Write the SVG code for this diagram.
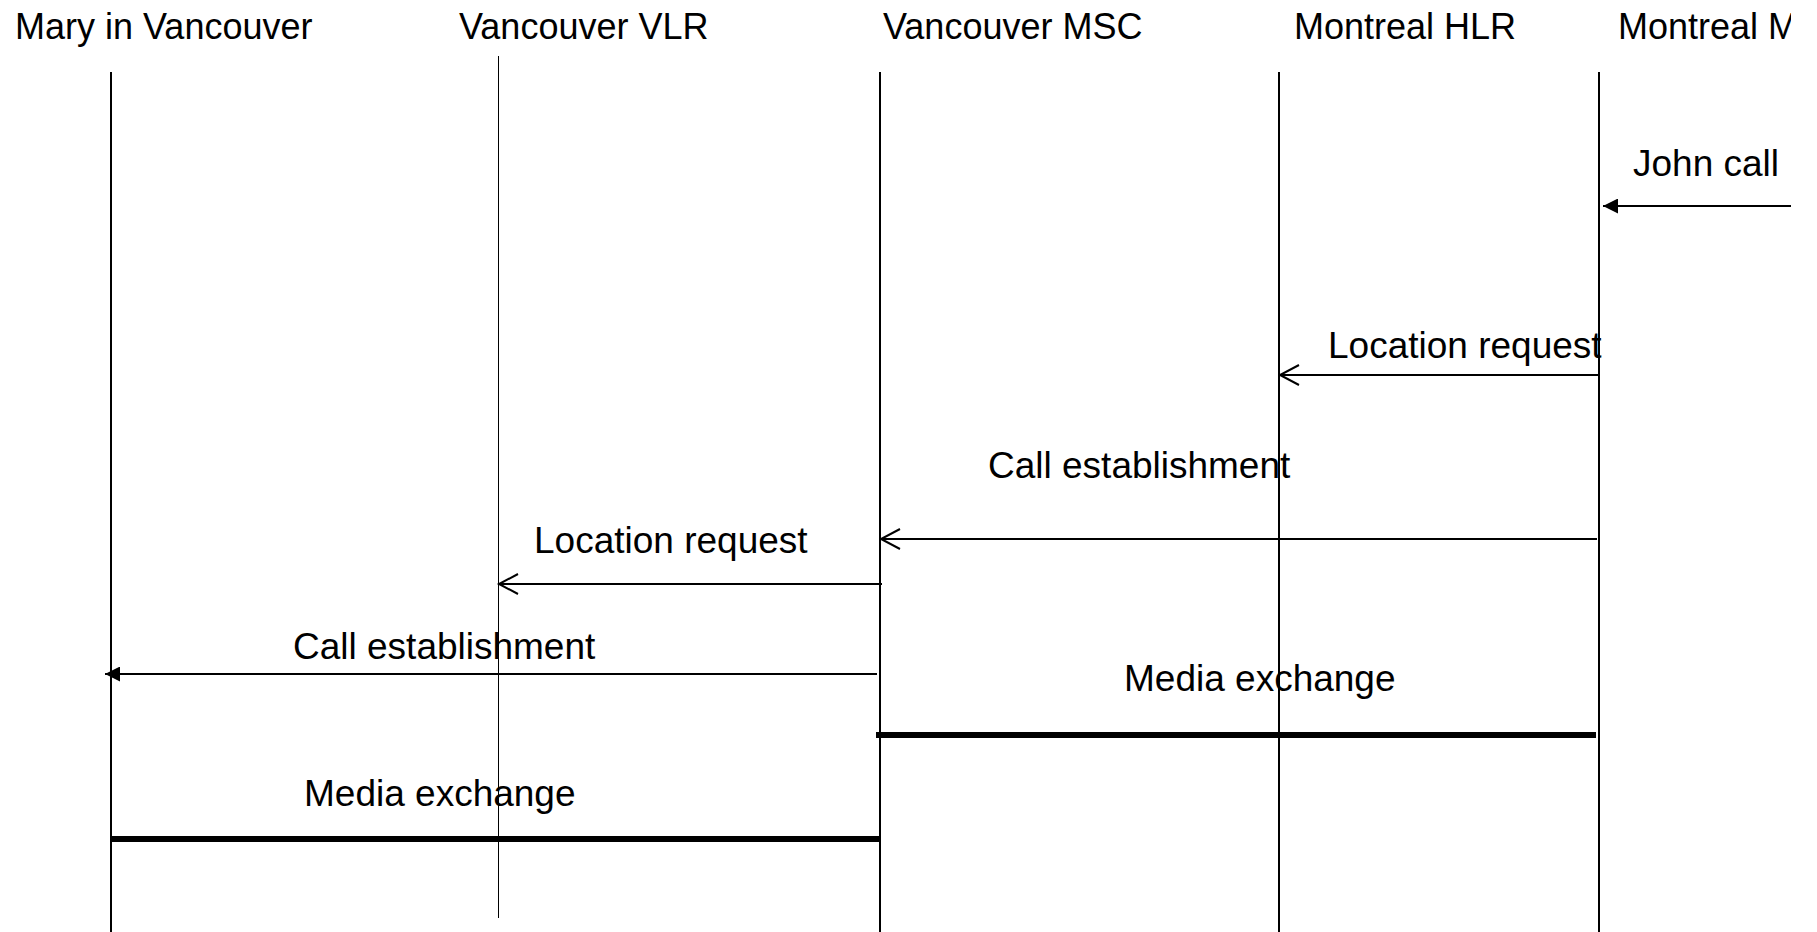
<svg xmlns="http://www.w3.org/2000/svg" width="1817" height="932" viewBox="0 0 1817 932">
<style>
.hdr{font-family:"Liberation Sans",Arial,sans-serif;font-size:36px;fill:#000}
.lbl{font-family:"Liberation Sans",Arial,sans-serif;font-size:37px;fill:#000}
.life{stroke:#000;stroke-width:2;fill:none}
.life.thin{stroke-width:1}
.msg{stroke:#000;stroke-width:2;fill:none}
.media{stroke:#000;stroke-width:6;fill:none}
</style>
<defs>
<clipPath id="clip"><rect x="0" y="0" width="1791" height="932"/></clipPath>
<marker id="filled" markerUnits="userSpaceOnUse" markerWidth="15" markerHeight="15" viewBox="0 0 15 15" refX="15" refY="7.5" orient="auto">
<path d="M0,0 L15,7.5 L0,15 z" fill="#000"/>
</marker>
<marker id="open" markerUnits="userSpaceOnUse" markerWidth="22" markerHeight="24" viewBox="-2 -2 22 24" refX="19" refY="10" orient="auto" overflow="visible">
<path d="M0,0 L19,10 L0,20" fill="none" stroke="#000" stroke-width="2"/>
</marker>
</defs>
<rect x="0" y="0" width="1817" height="932" fill="#fff"/>
<g clip-path="url(#clip)">
<g id="mary">
<text class="hdr" x="15" y="39">Mary in Vancouver</text>
<line class="life" x1="111" y1="72" x2="111" y2="932"/>
</g>
<g id="vlr">
<text class="hdr" x="459" y="39">Vancouver VLR</text>
<line class="life thin" x1="498.5" y1="56" x2="498.5" y2="918"/>
</g>
<g id="vmsc">
<text class="hdr" x="883" y="39">Vancouver MSC</text>
<line class="life" x1="880" y1="72" x2="880" y2="932"/>
</g>
<g id="hlr">
<text class="hdr" x="1294" y="39">Montreal HLR</text>
<line class="life" x1="1279" y1="72" x2="1279" y2="932"/>
</g>
<g id="mmsc">
<text class="hdr" x="1618" y="39">Montreal MSC</text>
<line class="life" x1="1599" y1="72" x2="1599" y2="932"/>
</g>
<g id="connectors">
<line class="msg" x1="1791" y1="206" x2="1603" y2="206" marker-end="url(#filled)"/>
<text class="lbl" x="1633" y="176">John call</text>
<line class="msg" x1="1598" y1="375" x2="1280" y2="375" marker-end="url(#open)"/>
<text class="lbl" x="1328" y="358">Location request</text>
<line class="msg" x1="1597" y1="539" x2="881" y2="539" marker-end="url(#open)"/>
<text class="lbl" x="988" y="478">Call establishment</text>
<line class="msg" x1="882" y1="584" x2="499" y2="584" marker-end="url(#open)"/>
<text class="lbl" x="534" y="553">Location request</text>
<line class="msg" x1="877" y1="674" x2="105" y2="674" marker-end="url(#filled)"/>
<text class="lbl" x="293" y="659">Call establishment</text>
<line class="media" x1="876" y1="735" x2="1596" y2="735"/>
<text class="lbl" x="1124" y="691">Media exchange</text>
<line class="media" x1="111" y1="839" x2="880" y2="839"/>
<text class="lbl" x="304" y="806">Media exchange</text>
</g>
</g>
</svg>
